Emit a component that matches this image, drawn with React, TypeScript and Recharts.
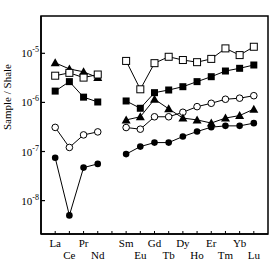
import { LineChart, Line, XAxis, YAxis, ReferenceArea } from 'recharts'

// rare earth elements, Pm left empty
const elements = ['La', 'Ce', 'Pr', 'Nd', 'Pm', 'Sm', 'Eu', 'Gd', 'Tb', 'Dy', 'Ho', 'Er', 'Tm', 'Yb', 'Lu']
const tickLabels = ['La', 'Ce', 'Pr', 'Nd', '', 'Sm', 'Eu', 'Gd', 'Tb', 'Dy', 'Ho', 'Er', 'Tm', 'Yb', 'Lu']
const lowerRow = ['Ce', 'Nd', 'Eu', 'Tb', 'Ho', 'Tm', 'Lu']
const yTicks = [1e-8, 1e-7, 1e-6, 1e-5]

const filledTriangle = [6.4e-6, 4.8e-6, 4.2e-6, 3.2e-6, null, 4.4e-7, 5.1e-7, 1.16e-6, 7.4e-7, 4.8e-7, 4.4e-7, 3.8e-7, 4.8e-7, 5.4e-7, 7.3e-7]
const openSquare = [3.5e-6, 4.0e-6, 3.2e-6, 3.7e-6, null, 7.0e-6, 1.85e-6, 6.3e-6, 8.5e-6, 7.3e-6, 6.6e-6, 7.7e-6, 1.26e-5, 9.2e-6, 1.36e-5]
const filledSquare = [1.7e-6, 2.65e-6, 1.28e-6, 1.02e-6, null, 1.07e-6, 7.6e-7, 1.58e-6, 1.79e-6, 2.09e-6, 2.65e-6, 3.34e-6, 4.36e-6, 4.95e-6, 5.78e-6]
const openCircle = [3.1e-7, 1.21e-7, 2.18e-7, 2.51e-7, null, 3.08e-7, 2.85e-7, 5.1e-7, 5.1e-7, 6.3e-7, 8.2e-7, 9.6e-7, 1.16e-6, 1.22e-6, 1.37e-6]
const filledCircle = [7.45e-8, 5.0e-9, 4.7e-8, 5.6e-8, null, 8.85e-8, 1.26e-7, 1.52e-7, 1.52e-7, 2.02e-7, 2.55e-7, 3.13e-7, 3.33e-7, 3.33e-7, 3.78e-7]

const data = elements.map((el, i) => ({
  el,
  pos: i + 1,
  filledTriangle: filledTriangle[i],
  openSquare: openSquare[i],
  filledSquare: filledSquare[i],
  openCircle: openCircle[i],
  filledCircle: filledCircle[i],
}))

const FONT = '"Liberation Serif", "DejaVu Serif", serif'
const Y_MIN = Math.pow(10, -8.68)
const Y_MAX = Math.pow(10, -4.24)

const Marker = (props: any, kind: string) => {
  const { cx, cy, index } = props
  const key = `${kind}-${index}`
  if (cx == null || cy == null || props.value == null) return <g key={key} />
  switch (kind) {
    case 'triangle':
      return <polygon key={key} points={`${cx},${cy - 4.5} ${cx - 4.5},${cy + 3.5} ${cx + 4.5},${cy + 3.5}`} fill="#000" />
    case 'square':
      return <rect key={key} x={cx - 3.5} y={cy - 3.5} width={7} height={7} fill="#000" />
    case 'openSquare':
      return <rect key={key} x={cx - 3.5} y={cy - 3.5} width={7} height={7} fill="#fff" stroke="#000" strokeWidth={1} />
    case 'openCircle':
      return <circle key={key} cx={cx} cy={cy} r={3.3} fill="#fff" stroke="#000" strokeWidth={1} />
    default:
      return <circle key={key} cx={cx} cy={cy} r={3.3} fill="#000" />
  }
}

const XTick = ({ x, y, payload }: any) => {
  const label = tickLabels[payload.value - 1]
  const lower = lowerRow.includes(label)
  return (
    <g>
      <line x1={x} x2={x} y1={y} y2={y - 3} stroke="#000" strokeWidth={1} />
      {label && (
        <text x={x} y={y + (lower ? 24.5 : 13)} textAnchor="middle" fontFamily={FONT} fontSize={11} fill="#000">
          {label}
        </text>
      )}
    </g>
  )
}

const YTick = ({ x, y, payload }: any) => {
  const exp = Math.round(Math.log10(payload.value))
  return (
    <g>
      <line x1={x} x2={x + 4} y1={y} y2={y} stroke="#000" strokeWidth={1.2} />
      <text x={x - 2} y={y + 4} textAnchor="end" fontFamily={FONT} fontSize={11} fill="#000">
        10
        <tspan dy={-5} fontSize={8}>{exp}</tspan>
      </text>
    </g>
  )
}

const YLabel = () => (
  <text
    x={10.5}
    y={97}
    transform="rotate(-90, 10.5, 97)"
    textAnchor="middle"
    fontFamily={FONT}
    fontSize={11}
    fill="#000"
  >
    Sample / Shale
  </text>
)

const series = [
  { key: 'filledCircle', kind: 'circle' },
  { key: 'openCircle', kind: 'openCircle' },
  { key: 'filledTriangle', kind: 'triangle' },
  { key: 'filledSquare', kind: 'square' },
  { key: 'openSquare', kind: 'openSquare' },
]

export default function App() {
  return (
    <div style={{ position: 'absolute', left: 0, top: 0, background: '#fff' }}>
      <LineChart width={273} height={262} data={data} margin={{ top: 16, right: 5, left: 0, bottom: 0 }}>
        <XAxis
          dataKey="pos"
          type="number"
          domain={[0, 16]}
          ticks={data.map((d) => d.pos)}
          tick={<XTick />}
          tickLine={false}
          tickSize={0}
          tickMargin={0}
          height={28}
          axisLine={{ stroke: '#000', strokeWidth: 1.5 }}
          interval={0}
        />
        <YAxis
          type="number"
          scale="log"
          domain={[Y_MIN, Y_MAX]}
          allowDataOverflow
          ticks={yTicks}
          tick={<YTick />}
          tickLine={false}
          tickSize={0}
          tickMargin={0}
          width={41}
          axisLine={{ stroke: '#000', strokeWidth: 1.5 }}
          interval={0}
          label={{ content: () => <YLabel /> }}
        />
        <ReferenceArea x1={0} x2={16} y1={Y_MIN} y2={Y_MAX} fill="none" stroke="#000" strokeWidth={1.5} />
        {series.map((s) => (
          <Line
            key={s.key}
            dataKey={s.key}
            stroke="#000"
            strokeWidth={1}
            connectNulls={false}
            isAnimationActive={false}
            dot={(p: any) => Marker(p, s.kind)}
            activeDot={false}
          />
        ))}
      </LineChart>
    </div>
  )
}
